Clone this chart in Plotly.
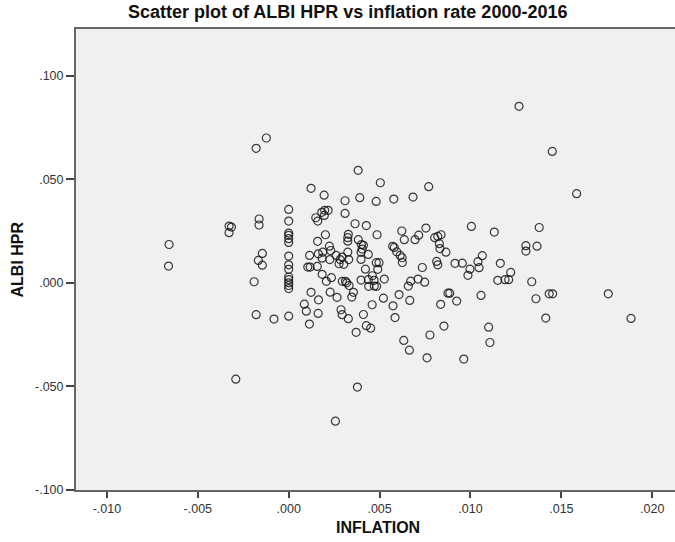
import plotly.graph_objects as go

# INFLATION values (x) and ALBI HPR values (y)
inflation = [
    -0.00123, -0.00179, 0.00123, 0.0, 0.0, 0.00149, 0.00160, 0.00182, -0.00163, -0.00163,
    -0.00328, -0.00315, -0.00328, 0.0, 0.0, 0.0, 0.0, 0.00159, -0.00658, -0.00145,
    -0.00167, -0.00145, 0.0, 0.00115, 0.00163, -0.00661, 0.0, 0.0, 0.00105, 0.00118,
    0.00157, 0.0, 0.0, 0.0, 0.0, 0.0, -0.00190, 0.00184, 0.00123, 0.00164,
    0.00086, 0.00097, 0.00162, -0.00179, -0.00081, 0.0,
    0.00382, 0.00504, 0.00770, 0.00195, 0.00310, 0.00391, 0.00481, 0.00578, 0.00684, 0.01005,
    0.00198, 0.00217, 0.00196, 0.00310, 0.00365, 0.00427, 0.00202, 0.00328, 0.00325, 0.00325,
    0.00383, 0.00400, 0.00411, 0.00404, 0.00486, 0.00622, 0.00636, 0.00695, 0.00715, 0.00755,
    0.00803, 0.00820, 0.00838, 0.00829, 0.00832, 0.00865, 0.00572, 0.00581, 0.00594, 0.00613,
    0.00624, 0.00625, 0.00224, 0.00231, 0.00187, 0.00226, 0.00184, 0.00261, 0.00283, 0.00294,
    0.00303, 0.00277, 0.00325, 0.00330, 0.00398, 0.00438, 0.00398, 0.00422, 0.00482, 0.00497,
    0.00490, 0.00460, 0.00470, 0.00471, 0.00484, 0.00438, 0.00440, 0.00526, 0.00398, 0.00295,
    0.00312, 0.00319, 0.00332, 0.00207, 0.00235, 0.00228, 0.00266, 0.00356, 0.00347, 0.00521,
    0.00459, 0.00574, 0.00607, 0.00666, 0.00658, 0.00671, 0.00712, 0.00748, 0.00735, 0.00814,
    0.00820, 0.00915, 0.00955, 0.00997, 0.00986, 0.01041, 0.01047, 0.00876, 0.00886, 0.00924,
    0.00836, 0.00288, 0.00294, 0.00411, 0.00585, 0.00328, 0.01058,
    0.01267, 0.01450, 0.01584, 0.01131, 0.01378, 0.01305, 0.01305, 0.01366, 0.01065, 0.01164,
    0.01221, 0.01210, 0.01190, 0.01150, 0.01337, 0.01360, 0.01433, 0.01452, 0.01758, 0.01414,
    0.01883, 0.01100, 0.01107,
    0.00114, 0.00371, 0.00427, 0.00451, 0.00633, 0.00664, 0.00777, 0.00761, -0.00291, 0.00378,
    0.00257, 0.00854, 0.00963,
]
albi_hpr = [
    0.0699, 0.0649, 0.0456, 0.0354, 0.0298, 0.0314, 0.0298, 0.0340, 0.0308, 0.0279,
    0.0274, 0.0269, 0.0242, 0.0240, 0.0229, 0.0213, 0.0195, 0.0200, 0.0185, 0.0142,
    0.0108, 0.0085, 0.0129, 0.0132, 0.0140, 0.0081, 0.0087, 0.0065, 0.0076, 0.0076,
    0.0079, 0.0028, 0.0015, 0.0000, -0.0013, -0.0028, 0.0005, 0.0041, -0.0046, -0.0082,
    -0.0103, -0.0137, -0.0148, -0.0154, -0.0175, -0.0161,
    0.0543, 0.0483, 0.0464, 0.0423, 0.0396, 0.0411, 0.0393, 0.0404, 0.0414, 0.0272,
    0.0350, 0.0350, 0.0325, 0.0335, 0.0285, 0.0276, 0.0232, 0.0234, 0.0218, 0.0201,
    0.0208, 0.0185, 0.0181, 0.0163, 0.0232, 0.0250, 0.0208, 0.0208, 0.0230, 0.0264,
    0.0218, 0.0224, 0.0232, 0.0189, 0.0165, 0.0148, 0.0176, 0.0171, 0.0150, 0.0132,
    0.0121, 0.0098, 0.0177, 0.0156, 0.0148, 0.0112, 0.0119, 0.0132, 0.0112, 0.0124,
    0.0089, 0.0092, 0.0148, 0.0112, 0.0147, 0.0137, 0.0113, 0.0066, 0.0097, 0.0097,
    0.0065, 0.0034, 0.0012, -0.0016, -0.0017, 0.0015, -0.0017, 0.0018, 0.0013, 0.0007,
    0.0007, 0.0000, -0.0013, 0.0007, 0.0025, -0.0045, -0.0070, -0.0046, -0.0069, -0.0074,
    -0.0106, -0.0111, -0.0057, -0.0085, -0.0016, 0.0008, 0.0018, 0.0003, 0.0074, 0.0103,
    0.0087, 0.0094, 0.0095, 0.0066, 0.0036, 0.0102, 0.0073, -0.0050, -0.0050, -0.0088,
    -0.0104, -0.0130, -0.0154, -0.0153, -0.0168, -0.0173, -0.0061,
    0.0852, 0.0634, 0.0430, 0.0245, 0.0267, 0.0179, 0.0153, 0.0177, 0.0131, 0.0094,
    0.0050, 0.0015, 0.0015, 0.0012, 0.0005, -0.0077, -0.0053, -0.0053, -0.0053, -0.0170,
    -0.0172, -0.0214, -0.0288,
    -0.0199, -0.0239, -0.0207, -0.0219, -0.0278, -0.0325, -0.0252, -0.0362, -0.0465, -0.0503,
    -0.0668, -0.0209, -0.0368,
]

x_tickvals = [-0.010, -0.005, 0.000, 0.005, 0.010, 0.015, 0.020]
x_ticktext = ["-.010", "-.005", ".000", ".005", ".010", ".015", ".020"]
y_tickvals = [-0.100, -0.050, 0.000, 0.050, 0.100]
y_ticktext = ["-.100", "-.050", ".000", ".050", ".100"]

title_text = "Scatter plot of ALBI HPR vs inflation rate 2000-2016"
x_label = "INFLATION"
y_label = "ALBI HPR"

fig = go.Figure()
fig.add_trace(go.Scatter(
    x=inflation, y=albi_hpr, mode="markers",
    marker=dict(symbol="circle-open", size=8, color="rgba(25,25,25,0.85)",
                line=dict(width=1.2)),
    showlegend=False, hoverinfo="skip",
))

axis_font = dict(family="Liberation Sans, Arial, sans-serif", size=12.5, color="#333333")
label_font = dict(family="Liberation Sans, Arial, sans-serif", size=16, color="#111111")
fig.update_layout(
    width=675, height=542,
    margin=dict(l=76, r=0, t=29, b=52),
    paper_bgcolor="white",
    plot_bgcolor="#F0F0F0",
    hovermode=False,
    xaxis=dict(
        range=[-0.0117, 0.02125],
        tickvals=x_tickvals, ticktext=x_ticktext,
        ticks="outside", ticklen=6, tickwidth=1.5, tickcolor="#444444",
        showline=True, linecolor="#666666", linewidth=2, mirror=True,
        showgrid=False, zeroline=False, tickfont=axis_font,
    ),
    yaxis=dict(
        range=[-0.100, 0.1225],
        tickvals=y_tickvals, ticktext=y_ticktext,
        ticks="outside", ticklen=8, tickwidth=1.5, tickcolor="#444444",
        showline=True, linecolor="#666666", linewidth=2, mirror=False,
        showgrid=False, zeroline=False, tickfont=axis_font,
    ),
    annotations=[
        dict(text="<b>" + title_text + "</b>", xref="paper", yref="paper",
             x=(347 - 76) / 599, y=1 + (29 - 12) / 461, xanchor="center", yanchor="middle",
             showarrow=False, font=dict(family="Liberation Sans, Arial", size=18, color="#111111")),
        dict(text="<b>" + x_label + "</b>", xref="paper", yref="paper",
             x=(378 - 76) / 599, y=-(527 - 490) / 461, xanchor="center", yanchor="middle",
             showarrow=False, font=label_font),
        dict(text="<b>" + y_label + "</b>", xref="paper", yref="paper",
             x=-(76 - 17) / 599, y=0.5, xanchor="center", yanchor="middle", textangle=-90,
             showarrow=False, font=label_font),
    ],
)

fig.write_html("out.html", config={"displayModeBar": False},
               post_script="document.body.style.margin='0';")
